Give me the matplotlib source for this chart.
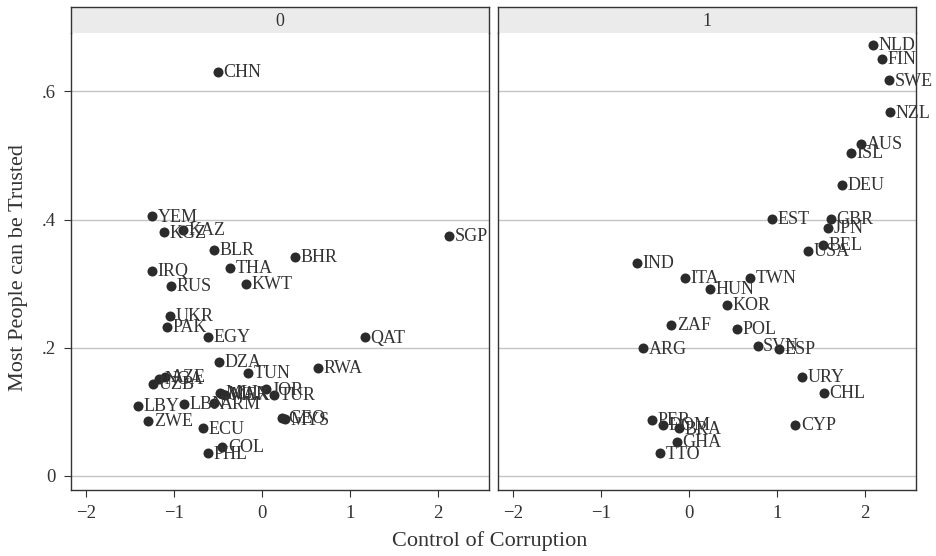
import matplotlib.pyplot as plt

plt.rcParams['font.family'] = ['Liberation Serif', 'DejaVu Serif']

# group 0 (low control of corruption)
codes0 = ['CHN', 'YEM', 'KGZ', 'KAZ', 'BLR', 'BHR', 'SGP', 'IRQ', 'THA', 'RUS',
          'KWT', 'UKR', 'PAK', 'EGY', 'QAT', 'DZA', 'TUN', 'RWA', 'UZB', 'NGA',
          'AZE', 'MLI', 'MAR', 'MEX', 'ARM', 'LBN', 'LBY', 'JOR', 'TUR', 'GEO',
          'MYS', 'ZWE', 'ECU', 'COL', 'PHL']
corr0 = [-0.50, -1.25, -1.11, -0.90, -0.54, 0.38, 2.13, -1.25, -0.36, -1.03,
         -0.18, -1.04, -1.08, -0.61, 1.17, -0.49, -0.16, 0.64, -1.24, -1.17,
         -1.10, -0.48, -0.45, -0.42, -0.54, -0.89, -1.41, 0.05, 0.14, 0.23,
         0.26, -1.29, -0.67, -0.45, -0.61]
trust0 = [0.630, 0.405, 0.380, 0.384, 0.353, 0.342, 0.374, 0.320, 0.325, 0.297,
          0.300, 0.250, 0.233, 0.217, 0.216, 0.178, 0.161, 0.168, 0.144, 0.151,
          0.154, 0.130, 0.128, 0.126, 0.113, 0.112, 0.109, 0.135, 0.126, 0.091,
          0.088, 0.086, 0.074, 0.045, 0.035]

# group 1 (high control of corruption)
codes1 = ['NLD', 'FIN', 'SWE', 'NZL', 'AUS', 'ISL', 'DEU', 'EST', 'GBR', 'JPN',
          'BEL', 'USA', 'IND', 'ITA', 'TWN', 'HUN', 'KOR', 'ZAF', 'POL', 'ARG',
          'SVN', 'ESP', 'URY', 'CHL', 'CYP', 'PER', 'DOM', 'BRA', 'GHA', 'TTO']
corr1 = [2.09, 2.19, 2.27, 2.28, 1.96, 1.84, 1.74, 0.94, 1.61, 1.58,
         1.52, 1.35, -0.59, -0.05, 0.69, 0.24, 0.43, -0.20, 0.55, -0.52,
         0.78, 1.02, 1.28, 1.53, 1.21, -0.42, -0.29, -0.11, -0.14, -0.33]
trust1 = [0.673, 0.650, 0.617, 0.567, 0.518, 0.504, 0.454, 0.401, 0.401, 0.387,
          0.360, 0.351, 0.332, 0.309, 0.309, 0.292, 0.267, 0.236, 0.229, 0.199,
          0.203, 0.198, 0.155, 0.129, 0.079, 0.087, 0.079, 0.074, 0.053, 0.035]

panels = [('0', codes0, corr0, trust0), ('1', codes1, corr1, trust1)]
yticks = [0, 0.2, 0.4, 0.6]
yticklabels = ['0', '.2', '.4', '.6']
xticks = [-2, -1, 0, 1, 2]

W, H = 936, 556
fig = plt.figure(figsize=(W / 100, H / 100), dpi=100)

lefts = [71, 498]
frame = '#333333'
for left, (title, codes, xs, ys) in zip(lefts, panels):
    ax = fig.add_axes([left / W, 1 - 490 / H, 418 / W, (490 - 33) / H])
    strip = fig.add_axes([left / W, 1 - 33 / H, 418 / W, 26 / H])

    ax.scatter(xs, ys, s=52, color='#2b2b2b', zorder=3, linewidths=0)
    for c, x, y in zip(codes, xs, ys):
        ax.annotate(c, (x, y), xytext=(4, -0.5), textcoords='offset points',
                    va='center', ha='left', fontsize=13, color='#333333',
                    zorder=4)

    ax.set_xlim(-2.17, 2.58)
    ax.set_ylim(-0.022, 0.691)
    ax.set_xticks(xticks)
    ax.set_xticklabels(['\u22122', '\u22121', '0', '1', '2'])
    ax.set_yticks(yticks)
    for t in yticks:
        ax.axhline(t, color='#c4c4c4', lw=1, zorder=1)
    ax.tick_params(axis='both', direction='out', length=5, width=0.8,
                   color=frame, labelsize=13.5, labelcolor='#333333', pad=6)
    if left == lefts[0]:
        ax.set_yticklabels(yticklabels)
    else:
        ax.tick_params(axis='y', left=False, labelleft=False)
    for s in ['left', 'right', 'bottom']:
        ax.spines[s].set_color(frame)
        ax.spines[s].set_linewidth(1)
    ax.spines['top'].set_visible(False)

    strip.set_facecolor('#ebebeb')
    strip.set_xticks([])
    strip.set_yticks([])
    for s in ['left', 'right', 'top']:
        strip.spines[s].set_color(frame)
        strip.spines[s].set_linewidth(1)
    strip.spines['bottom'].set_visible(False)
    strip.text(0.5, 0.45, title, ha='center', va='center', fontsize=13,
               color='#333333', transform=strip.transAxes)

fig.text(490 / W, 1 - 541 / H, 'Control of Corruption', ha='center',
         va='center', fontsize=16, color='#333333')
fig.text(19 / W, 1 - 268 / H, 'Most People can be Trusted', ha='center',
         va='center', rotation=90, fontsize=16, color='#333333')

fig.savefig('out.png', dpi=100)
